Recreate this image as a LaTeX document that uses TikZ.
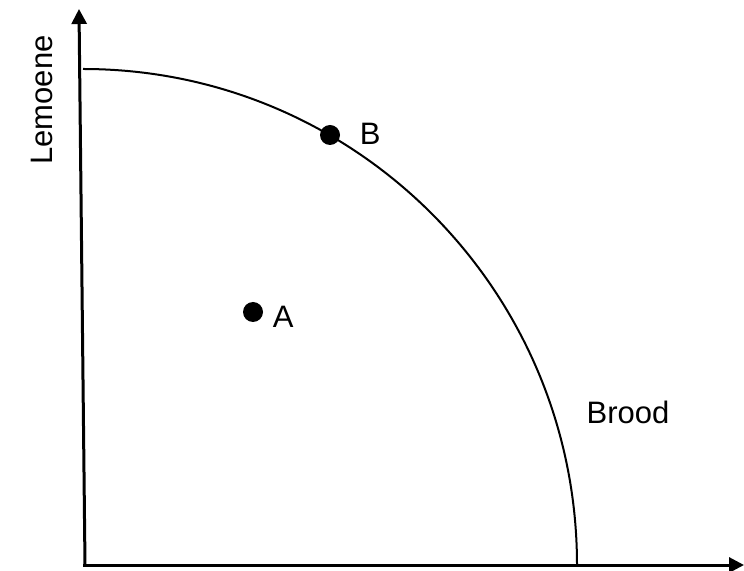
\documentclass[tikz,border=0pt]{standalone}
\usepackage{fontspec}
\setmainfont{Liberation Sans}
\usetikzlibrary{arrows.meta,positioning}

\begin{document}
\begin{tikzpicture}[
    x=0.5pt, y=-0.5pt,
    axis/.style={line width=1.5pt, -{Triangle[length=7.5pt, width=7.5pt]}},
    frontier/.style={line width=1pt},
    dot/.style={circle, fill=black, inner sep=0pt, minimum size=10pt},
    lbl/.style={font=\fontsize{15.5}{18}\selectfont, inner sep=0pt},
  ]
  \useasboundingbox (0,0) rectangle (744,571);

  % axes
  \coordinate (O) at (85,565);
  \coordinate (ytop) at (79,9);
  \coordinate (xorig) at (83,565);
  \coordinate (xend) at (744,565);
  \draw[axis] (O) -- (ytop);
  \draw[axis] (xorig) -- (xend);

  % production possibilities curve
  \coordinate (ctop) at (83,69);
  \draw[frontier] (ctop) arc[start angle=-90, end angle=0, x radius=494, y radius=496];

  \node[dot] (bdot) at (330,135) {};
  \node[dot] (adot) at (253,312) {};
  \node[lbl, right=9.5pt of bdot, yshift=0.5pt] (blbl) {B};
  \node[lbl, right=4.5pt of adot, yshift=-2.5pt] (albl) {A};

  \node[lbl] (brood) at (628,412) {Brood};
  \node[lbl, rotate=90] (lemoene) at (42,100) {Lemoene};
\end{tikzpicture}
\end{document}
